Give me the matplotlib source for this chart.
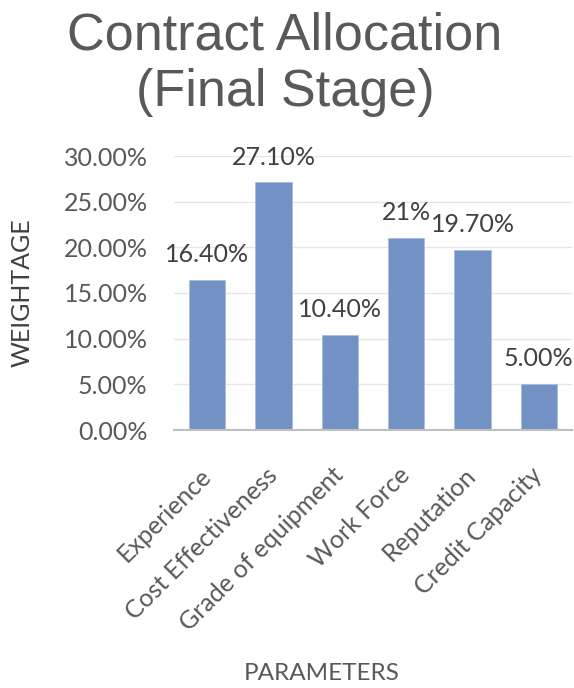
import matplotlib.pyplot as plt
from matplotlib.ticker import FuncFormatter

parameters = ['Experience', 'Cost Effectiveness', 'Grade of equipment',
              'Work Force', 'Reputation', 'Credit Capacity']
weightage = [16.4, 27.1, 10.4, 21.0, 19.7, 5.0]
value_labels = ['16.40%', '27.10%', '10.40%', '21%', '19.70%', '5.00%']
y_ticks = [0, 5, 10, 15, 20, 25, 30]

plt.rcParams['font.family'] = ['Lato', 'DejaVu Sans']

fig = plt.figure(figsize=(5.74, 6.88), dpi=100)
ax = fig.add_axes([174 / 574, 1 - 430 / 688, 398 / 574, 274 / 688])

bars = ax.bar(range(len(parameters)), weightage, width=0.55,
              color='#7292c6', edgecolor='#a9bde0', linewidth=0.6, zorder=3)

for bar, lab in zip(bars, value_labels):
    ax.annotate(lab, (bar.get_x() + bar.get_width() / 2, bar.get_height()),
                xytext=(0, 10), textcoords='offset points',
                ha='center', va='bottom', fontsize=18, color='#404040')

ax.set_xlim(-0.5, len(parameters) - 0.5)
ax.set_ylim(0, 30)
ax.set_yticks(y_ticks)
ax.yaxis.set_major_formatter(FuncFormatter(lambda v, _: f'{v:.2f}%'))
ax.tick_params(axis='y', length=0, labelsize=18, labelcolor='#595959', pad=19)
ax.tick_params(axis='x', length=0, labelsize=18, labelcolor='#595959', pad=30)
ax.set_xticks(range(len(parameters)))
ax.set_xticklabels(parameters, rotation=45, ha='right', va='center',
                   rotation_mode='anchor')

ax.grid(axis='y', color='#e6e6e6', linewidth=1, zorder=0)
for side in ['top', 'right', 'left']:
    ax.spines[side].set_visible(False)
ax.spines['bottom'].set_color('#bfbfbf')
ax.spines['bottom'].set_linewidth(1.5)
ax.spines['bottom'].set_zorder(4)

fig.text(22 / 574, 1 - 293 / 688, 'WEIGHTAGE', rotation=90, ha='center',
         va='center', fontsize=18, color='#404040')
fig.text(322 / 574, 1 - 674 / 688, 'PARAMETERS', ha='center', va='center',
         fontsize=17.5, color='#595959')
fig.text(285 / 574, 1 - 64 / 688, 'Contract Allocation\n(Final Stage)',
         ha='center', va='center', fontsize=37.5, color='#595959',
         family='Liberation Sans', linespacing=1.2)

fig.savefig('out.png', dpi=100)
